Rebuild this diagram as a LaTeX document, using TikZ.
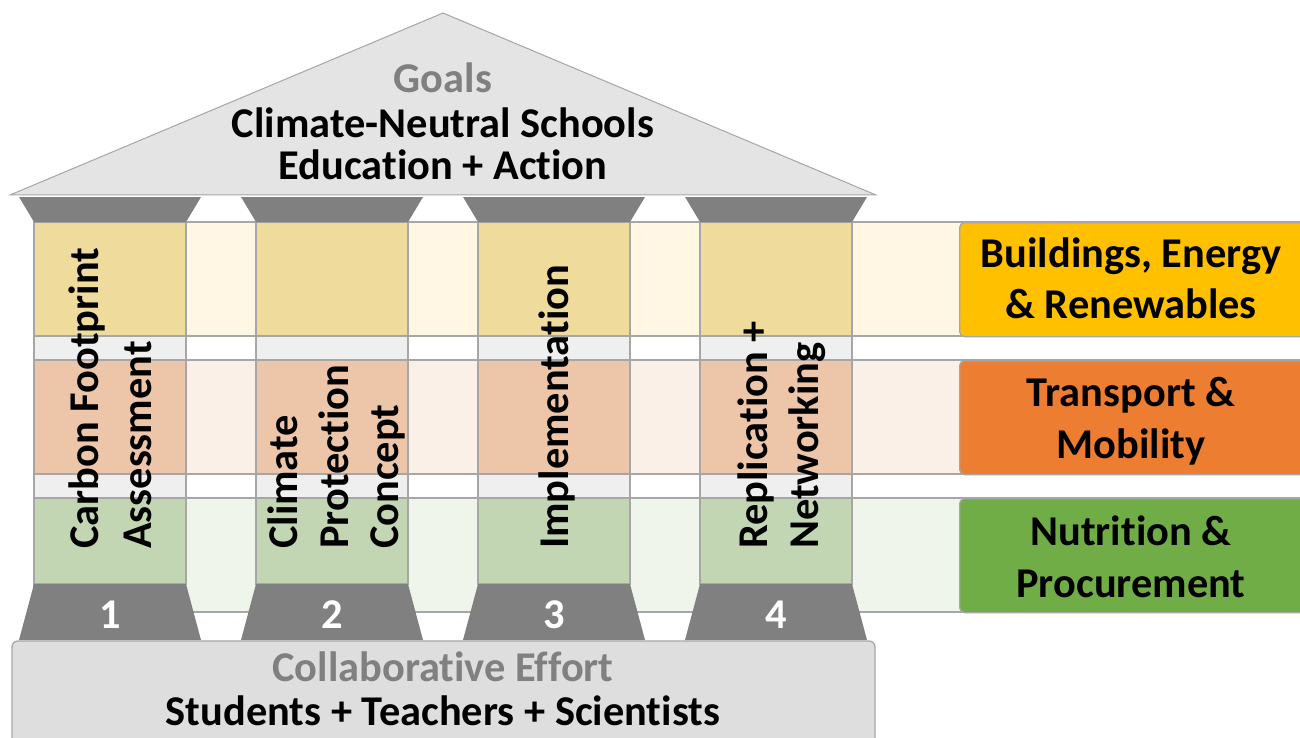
\documentclass[tikz,border=0pt]{standalone}
\usepackage{fontspec}
\setmainfont{Carlito}[Ligatures=NoCommon]
\definecolor{lineg}{HTML}{A6A6A6}
\definecolor{roofc}{HTML}{E4E4E4}
\definecolor{capc}{HTML}{808080}
\definecolor{colgrey}{HTML}{EFEFEF}
\definecolor{yd}{HTML}{EFDB9B}
\definecolor{yl}{HTML}{FFF6E3}
\definecolor{od}{HTML}{EDC6AA}
\definecolor{ol}{HTML}{FBF0E7}
\definecolor{gd}{HTML}{C3D6B4}
\definecolor{gl}{HTML}{EFF5EA}
\definecolor{platc}{HTML}{DEDEDE}
\definecolor{greytxt}{HTML}{808080}
\definecolor{boxy}{HTML}{FFC000}
\definecolor{boxo}{HTML}{ED7D31}
\definecolor{boxg}{HTML}{70AD47}
\begin{document}
\begin{tikzpicture}[x=1pt,y=-1pt,
  outl/.style={draw=lineg, line width=1.3pt},
  txt/.style={font=\bfseries\fontsize{42.4}{51}\selectfont, inner sep=0pt},
  coltxt/.style={txt, rotate=90, anchor=base west},
  numtxt/.style={txt, text=white, anchor=base},
  catbox/.style={outl, rounded corners=5pt, minimum width=346pt, minimum height=114pt, anchor=north west, inner sep=0pt},
  cattxt/.style={txt, align=center, anchor=base}]
\useasboundingbox (0,0) rectangle (1300,738);
% light horizontal bands
\draw[outl, fill=yl] (34,222) rectangle (1320,336);
\draw[outl, fill=ol] (34,360) rectangle (1320,474);
\draw[outl, fill=gl] (34,498) rectangle (1320,612);
% columns
\foreach \x in {34,256,478,700} {
  \draw[outl, fill=colgrey] (\x,222) rectangle (\x+152,584);
  \draw[outl, fill=yd] (\x,222) rectangle (\x+152,336);
  \draw[outl, fill=od] (\x,360) rectangle (\x+152,474);
  \draw[outl, fill=gd] (\x,498) rectangle (\x+152,584);
  % capital
  \fill[capc] (\x-15,197) -- (\x+167,197) -- (\x+152,222) -- (\x,222) -- cycle;
  % base
  \fill[capc] (\x,584) -- (\x+152,584) -- (\x+167,640) -- (\x-15,640) -- cycle;
}
% roof
\draw[draw=lineg, line width=1pt, fill=roofc] (10,195) -- (443,13) -- (876,195) -- cycle;
\node[txt, text=greytxt, anchor=base] (goals) at (443,93) {Goals};
\node[txt, anchor=base] (goal1) at (443,138) {Climate-Neutral Schools};
\node[txt, anchor=base] (goal2) at (443,180) {Education + Action};
% platform
\draw[outl, fill=platc, rounded corners=6pt] (12,641) rectangle (875,780);
\node[txt, text=greytxt, anchor=base] (collab) at (443,681) {Collaborative Effort};
\node[txt, anchor=base] (people) at (443,725) {Students + Teachers + Scientists};
% numbers
\node[numtxt] (n1) at (110,628) {1};
\node[numtxt] (n2) at (332,628) {2};
\node[numtxt] (n3) at (554,628) {3};
\node[numtxt] (n4) at (776,628) {4};
% column texts
\node[coltxt] (c1a) at (98,549) {Carbon Footprint};
\node[coltxt] (c1b) at (151,549) {Assessment};
\node[coltxt] (c2a) at (297,549) {Climate};
\node[coltxt] (c2b) at (348,549) {Protection};
\node[coltxt] (c2c) at (398,549) {Concept};
\node[coltxt] (c3a) at (568,549) {Implementation};
\node[coltxt] (c4a) at (767,549) {Replication +};
\node[coltxt] (c4b) at (818,549) {Networking};
% category boxes
\node[catbox, fill=boxy] (cat1) at (959,222) {};
\node[catbox, fill=boxo] (cat2) at (959,360) {};
\node[catbox, fill=boxg] (cat3) at (959,498) {};
\node[cattxt] (t1a) at (1131,267) {Buildings, Energy};
\node[cattxt] (t1b) at (1131,318) {\& Renewables};
\node[cattxt] (t2a) at (1131,406) {Transport \&};
\node[cattxt] (t2b) at (1131,458) {Mobility};
\node[cattxt] (t3a) at (1131,545) {Nutrition \&};
\node[cattxt] (t3b) at (1131,597) {Procurement};
\end{tikzpicture}
\end{document}
